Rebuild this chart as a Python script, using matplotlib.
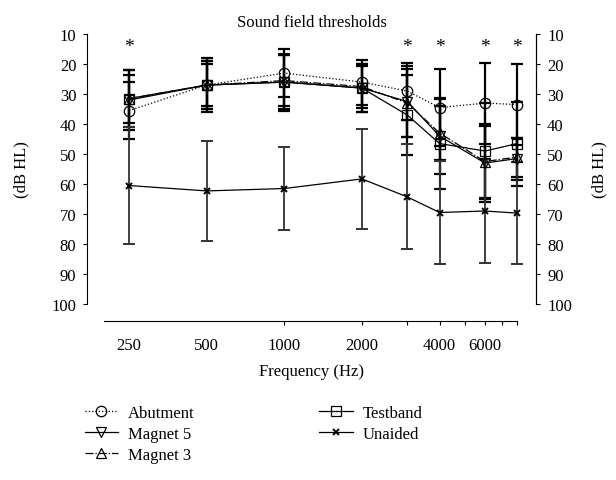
import matplotlib.pyplot as plt
from matplotlib.ticker import FixedLocator, NullFormatter

freqs = [250, 500, 1000, 2000, 3000, 4000, 6000, 8000]

abutment = [35.5, 27, 23, 26, 29, 34.5, 33, 33.5]
magnet5 = [32, 27, 26, 28, 32.5, 44, 53, 51.5]
magnet3 = [31.5, 27, 25.5, 27.5, 33, 43, 52.5, 51]
testband = [31.5, 27, 26, 28, 37, 46.5, 49, 46.5]
unaided = [60.5, 62.3, 61.5, 58.3, 64.3, 69.5, 69, 69.7]

abutment_sd = [9.5, 8, 8, 7.5, 9.5, 12.8, 13.5, 13.5]
magnet5_sd = [10, 8, 9, 8, 11.8, 12.7, 13, 7]
magnet3_sd = [8, 7, 8.5, 7, 11.3, 9, 12, 6.5]
testband_sd = [9.4, 9, 9.5, 8, 13.3, 15, 16, 14]
unaided_sd = [19.6, 16.6, 14, 16.7, 17.5, 17.2, 17.5, 17]

star_freqs = [250, 3000, 4000, 6000, 8000]

tick_freqs = [250, 500, 1000, 2000, 4000, 6000]
tick_labels = ['250', '500', '1000', '2000', '4000', '6000']
minor_freqs = [1000, 2000, 3000, 4000, 5000, 6000, 7000, 8000]

plt.rcParams['font.family'] = ['Liberation Serif', 'DejaVu Serif']
plt.rcParams['font.size'] = 12

fig = plt.figure(figsize=(6.16, 4.81), dpi=100)
ax = fig.add_axes([0.142, 0.366, 0.728, 0.561])

series = [
    ('Abutment', abutment, abutment_sd, ':', 'o', 7.5),
    ('Magnet 5', magnet5, magnet5_sd, '-', 'v', 7.5),
    ('Magnet 3', magnet3, magnet3_sd, '-.', '^', 7.5),
    ('Testband', testband, testband_sd, '-', 's', 7.5),
]

for name, vals, sd, ls, mk, ms in series:
    ax.errorbar(freqs, vals, yerr=sd, fmt='none', ecolor='black',
                elinewidth=1.6, capsize=4, capthick=1.6, zorder=2)
    ax.plot(freqs, vals, linestyle=ls, marker=mk, color='black',
            markerfacecolor='none', markersize=ms, markeredgewidth=0.9,
            linewidth=0.9, label=name, zorder=3)

ax.errorbar(freqs, unaided, yerr=unaided_sd, fmt='none', ecolor='#333333',
            elinewidth=1.3, capsize=4, capthick=1.4, zorder=2)
ax.plot(freqs, unaided, linestyle='-', marker='x', color='black',
        markersize=4.5, markeredgewidth=1.4, linewidth=0.9,
        label='Unaided', zorder=3)

for f in star_freqs:
    ax.text(f, 14, '*', ha='center', va='center', fontsize=14)

ax.set_xscale('log')
ax.set_xlim(172.6, 9454)
ax.set_ylim(100, 10)
ax.set_yticks(range(10, 101, 10))

ax.xaxis.remove_overlapping_locs = False
ax.xaxis.set_major_locator(FixedLocator(tick_freqs))
ax.set_xticklabels(tick_labels)
ax.xaxis.set_minor_locator(FixedLocator(minor_freqs))
ax.xaxis.set_minor_formatter(NullFormatter())
ax.tick_params(axis='x', which='major', length=0, pad=12)
ax.tick_params(axis='x', which='minor', length=3, direction='out', width=0.8)
ax.tick_params(axis='y', length=3, width=0.8, pad=5)

ax.spines['top'].set_visible(False)
ax.spines['bottom'].set_position(('outward', 12))
ax.spines['bottom'].set_bounds(200, 8000)
for s in ['left', 'right', 'bottom']:
    ax.spines[s].set_linewidth(0.8)

ax.set_ylabel('(dB HL)', labelpad=16)
ax.set_xlabel('Frequency (Hz)', labelpad=7)
ax.set_title('Sound field thresholds', fontsize=12, pad=6)

ax2 = ax.twinx()
ax2.set_ylim(100, 10)
ax2.set_yticks(range(10, 101, 10))
ax2.tick_params(axis='y', length=3, width=0.8, pad=5)
ax2.spines['top'].set_visible(False)
ax2.spines['bottom'].set_visible(False)
ax2.spines['left'].set_visible(False)
ax2.spines['right'].set_linewidth(0.8)
ax2.set_ylabel('(dB HL)', labelpad=14)

ax.legend(loc='upper left', bbox_to_anchor=(-0.04, -0.32), ncol=2,
          frameon=False, handlelength=2.0, columnspacing=7.5,
          labelspacing=0.3, handletextpad=0.6, fontsize=12)

plt.savefig('out.png', dpi=100)
plt.close()
